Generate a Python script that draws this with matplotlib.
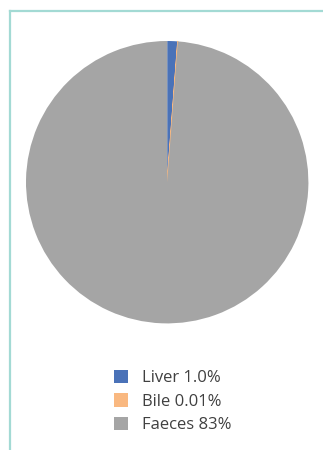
import matplotlib
matplotlib.use("Agg")
import matplotlib.pyplot as plt
from matplotlib.lines import Line2D
from matplotlib.patches import Patch

plt.rcParams['font.family'] = ['Open Sans', 'DejaVu Sans']

labels = ["Liver 1.0%", "Bile 0.01%", "Faeces 83%"]
values = [1.0, 0.01, 83]
colors = ["#4A72B8", "#F9B880", "#A5A5A5"]

W, H = 323, 450
fig = plt.figure(figsize=(W / 100, H / 100), dpi=100)

# teal frame on top and left
fig.add_artist(Line2D([9.5 / W, 1.0], [1 - 10.5 / H, 1 - 10.5 / H],
                      transform=fig.transFigure, color="#A3DAD4", lw=1.6))
fig.add_artist(Line2D([9.5 / W, 9.5 / W], [1 - 10.5 / H, 0.0],
                      transform=fig.transFigure, color="#A3DAD4", lw=1.6))

cx, cy, r = 167.2, 182.2, 141.2
ax = fig.add_axes([(cx - r) / W, 1 - (cy + r) / H, 2 * r / W, 2 * r / H])
wedges, _ = ax.pie(values, colors=colors, startangle=90, counterclock=False,
                   radius=1.0)
# keep the tiny bile slice visible as a thin line
wedges[1].set_edgecolor(colors[1])
wedges[1].set_linewidth(0.8)
ax.set_xlim(-1, 1)
ax.set_ylim(-1, 1)
ax.set_aspect("equal")
ax.axis("off")

handles = [Patch(facecolor=c, edgecolor="none") for c in colors]
fig.legend(handles, labels, loc="upper left",
           bbox_to_anchor=(99 / W, 1 - 355 / H), frameon=False,
           fontsize=12, handlelength=0.85, handleheight=0.85,
           handletextpad=0.85, labelspacing=0.42, labelcolor="#404040")

fig.savefig("out.png", dpi=100, facecolor="white")
